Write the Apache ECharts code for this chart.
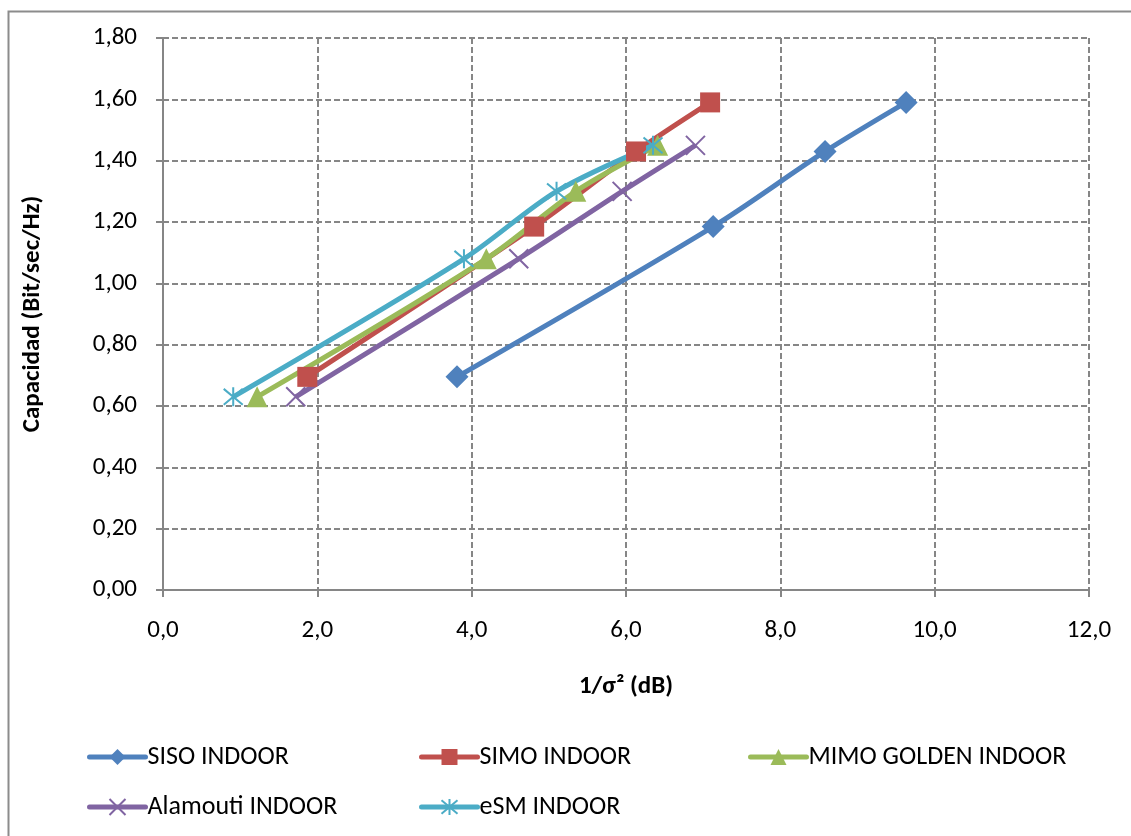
<!DOCTYPE html>
<html>
<head>
<meta charset="utf-8">
<script src="https://cdn.jsdelivr.net/npm/echarts@6/dist/echarts.min.js"></script>
<style>
  html, body { margin: 0; padding: 0; background: #fff; }
  #chart { width: 1131px; height: 836px; }
</style>
</head>
<body>
<div id="chart"></div>
<script>
// Capacity vs. 1/sigma^2 for the indoor schemes
const seriesNames = ['SISO INDOOR', 'SIMO INDOOR', 'MIMO GOLDEN INDOOR', 'Alamouti INDOOR', 'eSM INDOOR'];

const sisoX = [3.81, 7.13, 8.58, 9.63];
const sisoY = [0.695, 1.185, 1.43, 1.59];

const simoX = [1.87, 4.81, 6.13, 7.09];
const simoY = [0.695, 1.185, 1.43, 1.59];

const mimoX = [1.22, 4.19, 5.35, 6.41];
const mimoY = [0.63, 1.08, 1.30, 1.45];

const alamoutiX = [1.72, 4.61, 5.95, 6.90];
const alamoutiY = [0.63, 1.08, 1.30, 1.45];

const esmX = [0.91, 3.90, 5.10, 6.35];
const esmY = [0.63, 1.08, 1.30, 1.45];

const xTicks = { min: 0, max: 12, interval: 2 };
const yTicks = { min: 0, max: 1.8, interval: 0.2 };

const colors = ['#4F81BD', '#C0504D', '#9BBB59', '#8064A2', '#4BACC6'];
const FONT = 'Carlito, Calibri, Lato, sans-serif';
const FS = 25;

const pairs = (xs, ys) => xs.map((x, i) => [x, ys[i]]);

const crossPath = 'path://M0,0 L10,10 M10,0 L0,10';
const starPath = 'path://M0,0 L10,10 M10,0 L0,10 M5,-1 L5,11';

function lineSeries(name, data, color, symbol, size, stroked) {
  return {
    name, type: 'line', data, smooth: 0.3,
    symbol, symbolSize: size,
    lineStyle: { color, width: 5 },
    itemStyle: stroked
      ? { color: 'rgba(0,0,0,0)', borderColor: color, borderWidth: 2 }
      : { color, borderColor: color, borderWidth: 0 },
    emphasis: { disabled: true },
    z: 3
  };
}

const series = [
  lineSeries(seriesNames[0], pairs(sisoX, sisoY), colors[0], 'diamond', 23, false),
  lineSeries(seriesNames[1], pairs(simoX, simoY), colors[1], 'rect', 20, false),
  lineSeries(seriesNames[2], pairs(mimoX, mimoY), colors[2], 'triangle', 21, false),
  lineSeries(seriesNames[3], pairs(alamoutiX, alamoutiY), colors[3], crossPath, 19, true),
  lineSeries(seriesNames[4], pairs(esmX, esmY), colors[4], starPath, 19, true)
];

// Legend entries laid out in a fixed grid of three columns
const legendSlots = [[87, 744], [419, 744], [748, 744], [87, 794], [419, 794]];
const legends = seriesNames.map((n, i) => ({
  data: [n],
  left: legendSlots[i][0], top: legendSlots[i][1],
  padding: 0,
  itemWidth: 56, itemHeight: 20, itemGap: 0,
  selectedMode: false,
  lineStyle: { width: 5, cap: 'round' },
  textStyle: { fontFamily: FONT, fontSize: 26, color: '#000', padding: [0, 0, 0, -3] }
}));

const gridColor = '#868686';

const chart = echarts.init(document.getElementById('chart'), null, { renderer: 'canvas' });
chart.setOption({
  animation: false,
  color: colors,
  backgroundColor: '#fff',
  graphic: [{
    type: 'rect', left: 6, top: 9,
    shape: { width: 1200, height: 900 },
    style: { fill: 'none', stroke: '#8c8c8c', lineWidth: 2 },
    silent: true
  }],
  grid: { left: 163, right: 42, top: 38, bottom: 246 },
  legend: legends,
  xAxis: {
    type: 'value', min: xTicks.min, max: xTicks.max, interval: xTicks.interval,
    name: '1/σ² (dB)', nameLocation: 'middle', nameGap: 84,
    nameTextStyle: { fontFamily: FONT, fontSize: FS, fontWeight: 'bold', color: '#000' },
    axisLine: { show: true, onZero: false, lineStyle: { color: gridColor, width: 2 } },
    axisTick: { show: true, length: 7, inside: false, lineStyle: { color: gridColor, width: 2 } },
    axisLabel: {
      fontFamily: FONT, fontSize: FS, color: '#000', margin: 28,
      formatter: v => v.toFixed(1).replace('.', ',')
    },
    splitLine: { show: true, lineStyle: { color: gridColor, width: 2, type: [6, 3] } }
  },
  yAxis: {
    type: 'value', min: yTicks.min, max: yTicks.max, interval: yTicks.interval,
    name: 'Capacidad (Bit/sec/Hz)', nameLocation: 'middle', nameGap: 118, nameRotate: 90,
    nameTextStyle: { fontFamily: FONT, fontSize: FS, fontWeight: 'bold', color: '#000' },
    axisLine: { show: true, onZero: false, lineStyle: { color: gridColor, width: 2 } },
    axisTick: { show: true, length: 7, inside: false, lineStyle: { color: gridColor, width: 2 } },
    axisLabel: {
      fontFamily: FONT, fontSize: FS, color: '#000', margin: 26,
      formatter: v => v.toFixed(2).replace('.', ',')
    },
    splitLine: { show: true, lineStyle: { color: gridColor, width: 2, type: [6, 3] } }
  },
  series
});
</script>
</body>
</html>
